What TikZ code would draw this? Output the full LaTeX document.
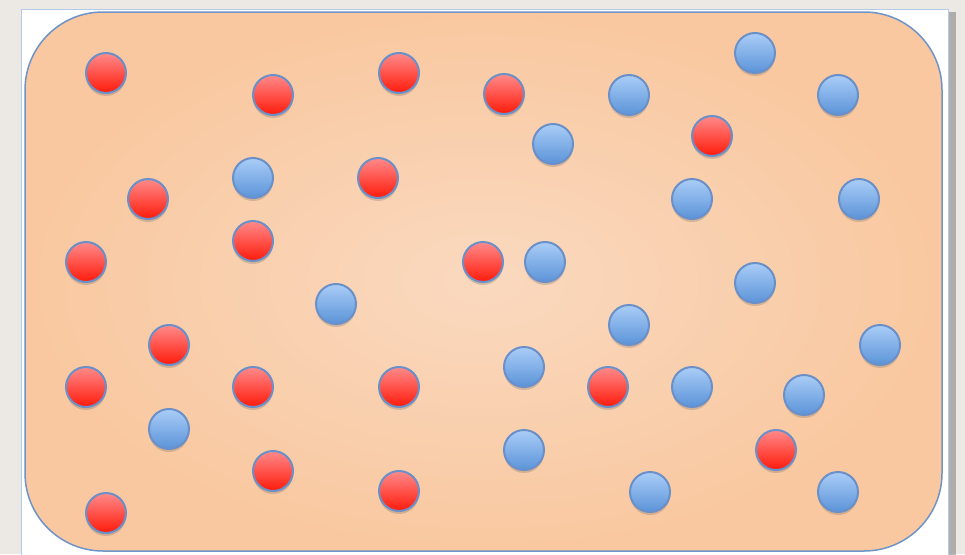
\documentclass[tikz,border=0pt]{standalone}
\usetikzlibrary{shadows,shadings}
\definecolor{bgpaper}{HTML}{ECE9E4}
\definecolor{framebd}{HTML}{B4CBEA}
\definecolor{boxbd}{HTML}{6E94C8}
\definecolor{boxin}{HTML}{FAD9BF}
\definecolor{boxout}{HTML}{F9C8A0}
\definecolor{redtop}{HTML}{FF8A8A}
\definecolor{redbot}{HTML}{FF1A0A}
\definecolor{bluetop}{HTML}{AACDF7}
\definecolor{bluebot}{HTML}{5B93D8}
\definecolor{ballbd}{HTML}{6A90CA}
\tikzset{
  ball/.style={circle, minimum size=40pt, inner sep=0pt, draw=ballbd, line width=2pt,
    drop shadow={shadow xshift=0pt, shadow yshift=-3pt, opacity=0.22, fill=black!70}},
  redball/.style={ball, top color=redtop, bottom color=redbot},
  blueball/.style={ball, top color=bluetop, bottom color=bluebot},
}
\begin{document}
\begin{tikzpicture}[x=1pt,y=-1pt]
\useasboundingbox (0,0) rectangle (965,554);
\fill[bgpaper] (0,0) rectangle (965,554);
% outer white frame
\node[draw=framebd, fill=white, line width=1.2pt, minimum width=927pt, minimum height=560pt,
  inner sep=0pt, anchor=north west,
  drop shadow={shadow xshift=7pt, shadow yshift=-2pt, opacity=0.45, fill=black!60}] (frame) at (21,9) {};
% rounded orange box
\path[draw=boxbd, line width=1.5pt, rounded corners=78pt, inner color=boxin, outer color=boxout]
  (25,12) rectangle (942,551);
% red balls
\foreach \px/\py [count=\i] in {106/73, 273/95, 399/73, 504/94, 712/136, 148/199, 378/178, 253/241, 86/262, 483/262, 169/345, 86/387, 253/387, 399/387, 608/387, 273/471, 399/491, 106/513, 776/450}
  \node[redball] (r\i) at (\px,\py) {};
% blue balls
\foreach \px/\py [count=\i] in {755/53, 629/95, 838/95, 553/144, 253/178, 692/199, 859/199, 545/262, 755/283, 336/304, 629/325, 880/345, 524/367, 692/387, 804/395, 169/429, 524/450, 650/492, 838/492}
  \node[blueball] (b\i) at (\px,\py) {};
\end{tikzpicture}
\end{document}
